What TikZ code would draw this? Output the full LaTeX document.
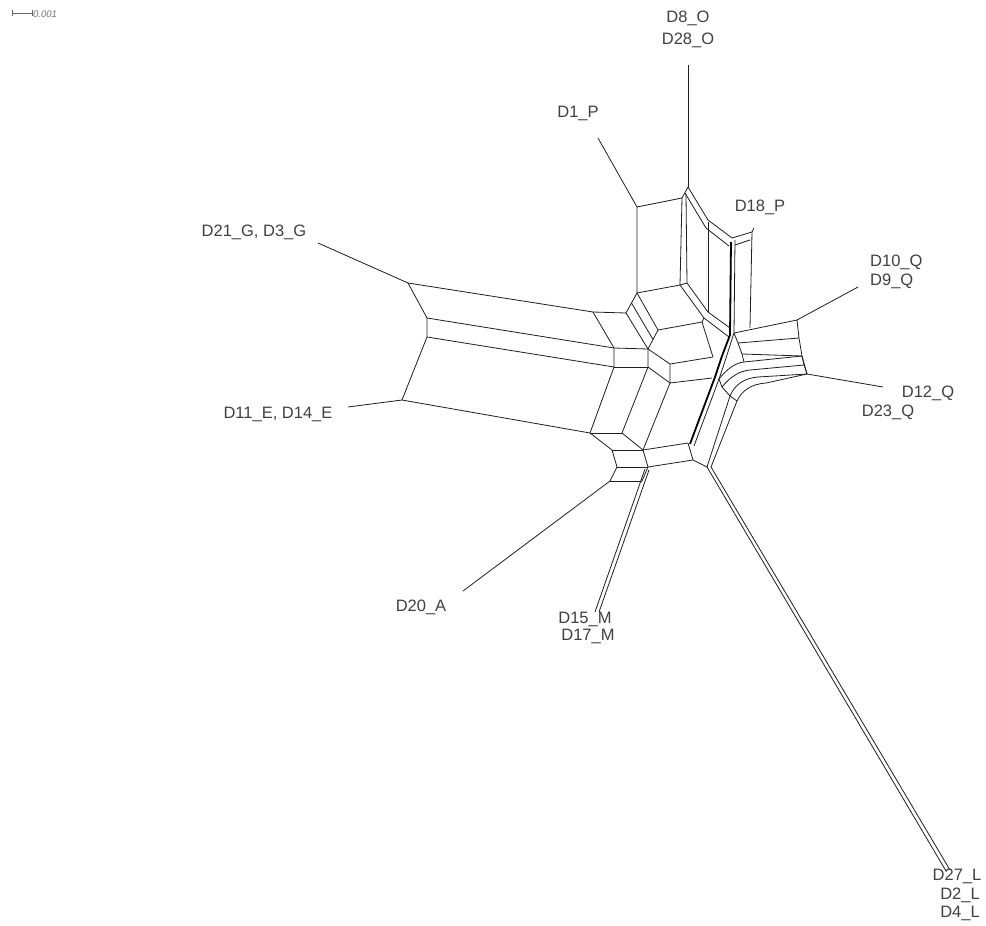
\documentclass[tikz,border=0pt]{standalone}
\usepackage{fontspec}
\setmainfont{Liberation Sans}
\begin{document}
\begin{tikzpicture}[x=1pt,y=-1pt,
  net/.style={line width=0.8pt, black!88, line join=round},
  heavy/.style={line width=1.8pt, black, line join=round},
  lbl/.style={text=black!75, font=\fontsize{16.5}{18}\selectfont, inner sep=0pt},
  sclbl/.style={text=black!55, font=\itshape\fontsize{9.5}{10}\selectfont, inner sep=0pt, anchor=west}
]
\useasboundingbox (0,0) rectangle (986,926);
\fill[white] (0,0) rectangle (986,926);

% scale bar
\draw[black!60, line width=0.6pt] (12,10)--(12,16) (12,13)--(32,13) (32,10)--(32,16);
\node[sclbl] (scale) at (33,14) {0.001};

% ---- labels
\node[lbl] (d8)  at (688,18) {D8\_O};
\node[lbl] (d28) at (688,40) {D28\_O};
\node[lbl] (d1)  at (578,113) {D1\_P};
\node[lbl] (d18) at (760,207) {D18\_P};
\node[lbl] (d21) at (254,232) {D21\_G, D3\_G};
\node[lbl,anchor=west] (d10) at (870,262) {D10\_Q};
\node[lbl,anchor=west] (d9)  at (870,281) {D9\_Q};
\node[lbl] (d12) at (928,393) {D12\_Q};
\node[lbl] (d23) at (888,412) {D23\_Q};
\node[lbl] (d11) at (278,414) {D11\_E, D14\_E};
\node[lbl] (d20) at (421,607) {D20\_A};
\node[lbl] (d15) at (585,619) {D15\_M};
\node[lbl] (d17) at (588,636) {D17\_M};
\node[lbl] (d27) at (957,876) {D27\_L};
\node[lbl] (d2)  at (960,895) {D2\_L};
\node[lbl] (d4)  at (960,913) {D4\_L};

% ---- pendant edges
\draw[net] (688,65)--(688,187);
\draw[net] (598,138)--(637,207);
\draw[net] (318,243)--(408,283);
\draw[net] (348,407)--(402,400);
\draw[net] (463,591)--(610,481);
\draw[net] (858,287)--(797,320);
\draw[net] (883,387)--(807,374);
\draw[net] (645,469)--(595,612);
\draw[net] (649,470)--(599,612);
\draw[net] (707,467)--(946,871);
\draw[net] (711,467)--(950,870);

% ---- left block
\draw[net] (408,283)--(427,318)--(427,337)--(402,400);
\draw[net] (593,312)--(614,348)--(614,367)--(590,433);
\draw[net] (408,283)--(593,312);
\draw[net] (427,318)--(614,348);
\draw[net] (427,337)--(614,367);
\draw[net] (402,400)--(590,433);

% ---- second column
\draw[net] (593,312)--(626,313);
\draw[net] (614,348)--(648,349);
\draw[net] (614,367)--(648,367);
\draw[net] (590,433)--(622,433);
\draw[net] (626,313)--(648,349)--(648,367)--(622,433);

% ---- D1_P box
\draw[net] (637,207)--(682,198)--(688,187);
\draw[net] (637,207)--(637,293)--(680,285);
\draw[net] (682,198)--(680,285);
\draw[net] (626,313)--(637,293);
\draw[net] (637,293)--(658,330)--(648,349);
\draw[net] (631.5,303)--(653,339.5);

% ---- upper P band
\draw[net] (688,187)--(708,220)--(732,238)--(752,232)--(754,228);
\draw[net] (685,193)--(706,228)--(729,246);
\draw[net] (735,245)--(750,240);
\draw[net] (686,194)--(687,283);
\draw[net] (708,222)--(708,312);
\draw[heavy] (731,242)--(730,335);
\draw[net] (735,240)--(734,333);
\draw[net] (752,232)--(750,328);
\draw[net] (680,285)--(687,283);
\draw[net] (680,285)--(704,318)--(729,337);
\draw[net] (687,283)--(708,312)--(730,328);

% ---- centre
\draw[net] (658,330)--(702,322)--(704,318);
\draw[net] (702,322)--(713,357);
\draw[net] (648,349)--(670,364)--(713,357);
\draw[net] (670,364)--(670,383)--(712,378);
\draw[net] (648,367)--(670,383);
\draw[net] (670,383)--(643,450);

% ---- bottom block
\draw[net] (590,433)--(612,450)--(617,467)--(610,481);
\draw[net] (622,433)--(643,450)--(648,467)--(642,481);
\draw[net] (612,450)--(643,450) (617,467)--(648,467) (610,481)--(642,481);
\draw[net] (643,450)--(688,443);
\draw[net] (648,467)--(693,460)--(707,467);
\draw[net] (688,443)--(693,460);

% ---- long L band
\draw[heavy] (730,335)--(722,356)--(715,377)--(690,444);
\draw[net] (734,333)--(726,358)--(719,379)--(694,446);

% ---- Q block
\draw[net] (734,333)--(797,320)--(799,338)--(802,356)--(807,374);
\draw[net] (738,343)--(799,338);
\draw[net] (742,354)--(802,356);
\draw[net] (734,333)--(738,343)--(742,354)--(744,362);
\draw[net] (719,379) .. controls (727,369) and (735,363) .. (744,362) -- (802,356);
\draw[net] (722,387) .. controls (730,377) and (739,371) .. (750,370) -- (804,365);
\draw[net] (707,467)--(730,396) .. controls (735,384) and (745,378) .. (758,377) -- (807,374);
\draw[net] (711,467)--(737,401) .. controls (742,390) and (752,384) .. (766,383) -- (807,374);
\draw[net] (730,396)--(722,387)--(719,379);
\draw[net] (737,401)--(730,396);
\draw[net] (802,356)--(804,365)--(807,374);
\end{tikzpicture}
\end{document}
